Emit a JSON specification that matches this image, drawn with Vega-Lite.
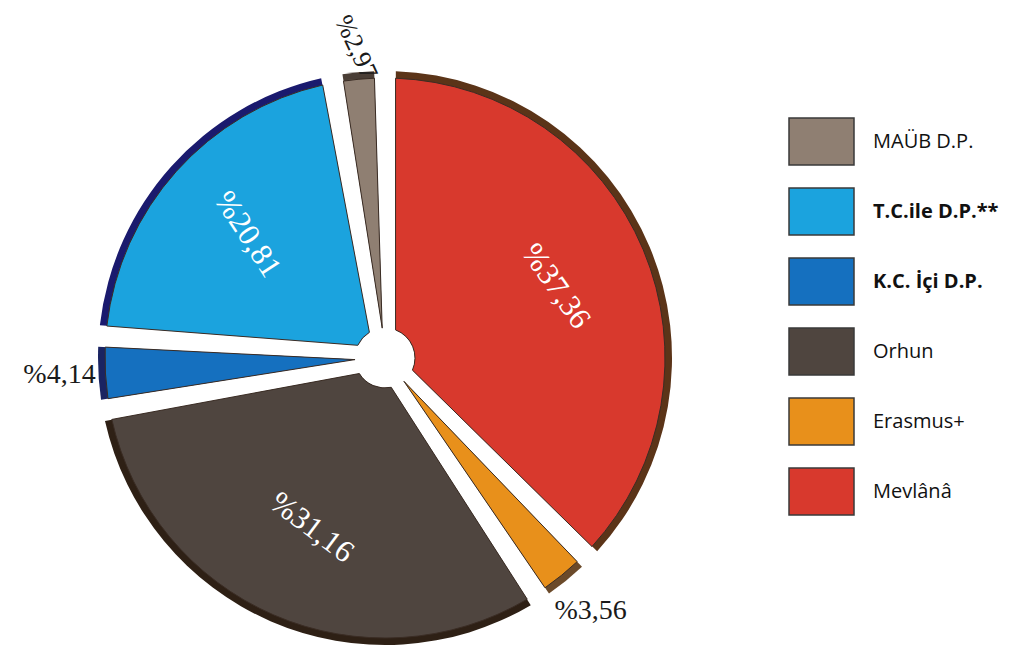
{
  "$schema": "https://vega.github.io/schema/vega-lite/v6.json",
  "width": 770,
  "height": 576,
  "autosize": {"type": "none"},
  "padding": {"left": 0, "top": 70, "right": 241, "bottom": 0},
  "background": "white",
  "config": {"view": {"stroke": null}},
  "data": {
    "values": [
      {"kategori": "Mevlânâ", "deger": 37.36},
      {"kategori": "Erasmus+", "deger": 3.56},
      {"kategori": "Orhun", "deger": 31.16},
      {"kategori": "K.C. İçi D.P.", "deger": 4.14},
      {"kategori": "T.C.ile D.P.**", "deger": 20.81},
      {"kategori": "MAÜB D.P.", "deger": 2.97}
    ]
  },
  "transform": [
    {"window": [{"op": "row_number", "as": "sira"}]},
    {"calculate": "'%' + replace(format(datum.deger, '.2f'), '.', ',')", "as": "etiket"}
  ],
  "encoding": {
    "theta": {"field": "deger", "type": "quantitative", "stack": true},
    "order": {"field": "sira", "type": "quantitative"}
  },
  "layer": [
    {
      "mark": {"type": "arc", "innerRadius": 30, "outerRadius": 287, "padAngle": 0.075},
      "encoding": {
        "fill": {
          "condition": [
            {"test": "datum.kategori === 'Mevlânâ'", "value": "#5b3418"},
            {"test": "datum.kategori === 'Erasmus+'", "value": "#6b4a2a"},
            {"test": "datum.kategori === 'Orhun'", "value": "#2e2015"},
            {"test": "datum.kategori === 'K.C. İçi D.P.'", "value": "#1a2462"},
            {"test": "datum.kategori === 'T.C.ile D.P.**'", "value": "#1a1a6e"}
          ],
          "value": "#4a3e36"
        }
      }
    },
    {
      "mark": {"type": "arc", "innerRadius": 30, "outerRadius": 280, "padAngle": 0.075, "stroke": "#3a2c24", "strokeWidth": 1},
      "encoding": {
        "color": {
          "field": "kategori", "type": "nominal",
          "scale": {
            "domain": ["MAÜB D.P.", "T.C.ile D.P.**", "K.C. İçi D.P.", "Orhun", "Erasmus+", "Mevlânâ"],
            "range": ["#8f7f72", "#1ba3de", "#1570bf", "#4f453f", "#e8901b", "#d8392d"]
          },
          "legend": {
            "title": null,
            "orient": "none",
            "legendX": 788,
            "legendY": 38,
            "symbolType": "M-1,-0.72H1V0.72H-1Z",
            "symbolSize": 4225,
            "symbolStrokeColor": "#3a3a3a",
            "symbolStrokeWidth": 1.5,
            "symbolOpacity": 1,
            "rowPadding": 10,
            "labelFont": "Open Sans",
            "labelFontSize": 20,
            "labelColor": "#111111",
            "labelOffset": 18,
            "labelLimit": 300,
            "labelFontWeight": {"expr": "datum.label === 'T.C.ile D.P.**' || datum.label === 'K.C. İçi D.P.' ? 'bold' : 'normal'"}
          }
        }
      }
    },
    {
      "mark": {"type": "text", "radius": 185, "font": "Liberation Serif", "fontSize": 31, "fill": "white"},
      "encoding": {
        "text": {"condition": {"test": "datum.deger > 10", "field": "etiket"}, "value": ""},
        "angle": {
          "condition": [
            {"test": "datum.kategori === 'Mevlânâ'", "value": 55},
            {"test": "datum.kategori === 'Orhun'", "value": 37}
          ],
          "value": 57
        }
      }
    },
    {
      "mark": {"type": "text", "radius": 326, "font": "Liberation Serif", "fontSize": 28, "fill": "#1a1a1a"},
      "encoding": {
        "text": {"condition": {"test": "datum.kategori === 'Erasmus+' || datum.kategori === 'K.C. İçi D.P.'", "field": "etiket"}, "value": ""}
      }
    },
    {
      "mark": {"type": "text", "radius": 312, "font": "Liberation Serif", "fontSize": 26, "fill": "#1a1a1a", "angle": 65},
      "encoding": {
        "text": {"condition": {"test": "datum.kategori === 'MAÜB D.P.'", "field": "etiket"}, "value": ""}
      }
    }
  ]
}
